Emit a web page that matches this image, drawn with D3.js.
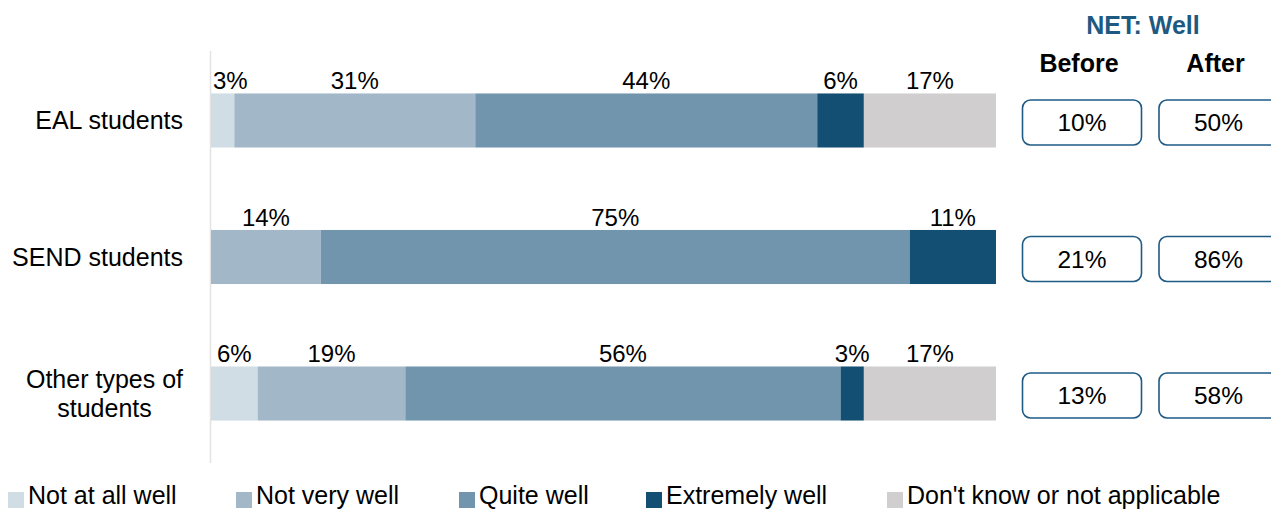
<!DOCTYPE html>
<html>
<head>
<meta charset="utf-8">
<script src="https://cdn.jsdelivr.net/npm/d3@7"></script>
<style>
  html, body { margin: 0; padding: 0; background: #fff; }
  svg { display: block; font-family: "Liberation Sans", Arial, sans-serif; }
</style>
</head>
<body>
<svg id="chart" width="1271" height="510"></svg>
<script>
// ---- Data ----
const categories = ["EAL students", "SEND students", "Other types of students"];
const categoryLines = [["EAL students"], ["SEND students"], ["Other types of", "students"]];
const seriesNames = ["Not at all well", "Not very well", "Quite well", "Extremely well", "Don't know or not applicable"];
const notAtAllWell = [3, 0, 6];
const notVeryWell = [31, 14, 19];
const quiteWell = [44, 75, 56];
const extremelyWell = [6, 11, 3];
const dontKnow = [17, 0, 17];
const netBefore = ["10%", "21%", "13%"];
const netAfter = ["50%", "86%", "58%"];
const netTitle = "NET: Well";
const netColumns = ["Before", "After"];

const colors = ["#d0dde5", "#a2b8c8", "#7295ae", "#134f73", "#d0cece"];

// ---- Layout ----
const svg = d3.select("#chart");
const seriesValues = [notAtAllWell, notVeryWell, quiteWell, extremelyWell, dontKnow];

const rows = categories.map((c, i) => {
  const vals = seriesValues.map(s => s[i]);
  const total = d3.sum(vals);
  let cum = 0;
  const segs = vals.map((v, k) => {
    const s = { key: seriesNames[k], k, value: v, x0: cum / total * 100, x1: (cum + v) / total * 100 };
    cum += v;
    return s;
  });
  return { cat: c, i, segs };
});

const x = d3.scaleLinear().domain([0, 100]).range([211, 996]);
const y = d3.scaleBand().domain(categories).range([51, 463]).paddingInner(0.604).paddingOuter(0.311);

// axis line
svg.append("line")
  .attr("x1", 210.5).attr("x2", 210.5)
  .attr("y1", 51).attr("y2", 463)
  .attr("stroke", "#e3e3e3").attr("stroke-width", 1.5);

// bars
const g = svg.append("g");
rows.forEach(r => {
  const segs = r.segs.filter(s => s.value > 0);
  g.selectAll(null).data(segs).enter().append("rect")
    .attr("x", d => x(d.x0))
    .attr("y", y(r.cat))
    .attr("width", d => x(d.x1) - x(d.x0))
    .attr("height", y.bandwidth())
    .attr("fill", d => colors[d.k]);
  g.selectAll(null).data(segs).enter().append("text")
    .attr("y", y(r.cat) - 4)
    .attr("text-anchor", "middle")
    .attr("font-size", 24)
    .attr("fill", "#000")
    .text(d => d.value + "%")
    .each(function(d) {
      const w = this.getComputedTextLength();
      const cx = Math.max((x(d.x0) + x(d.x1)) / 2, 213 + w / 2);
      d3.select(this).attr("x", cx);
    });
});

// category labels
categoryLines.forEach((lines, i) => {
  const cy = y(categories[i]) + y.bandwidth() / 2;
  const lh = 29;
  const t = svg.append("text")
    .attr("font-size", 25)
    .attr("fill", "#000")
    .attr("text-anchor", "middle");
  const tspans = lines.map((ln, j) => t.append("tspan")
    .attr("y", cy + (j - (lines.length - 1) / 2) * lh + 8.5)
    .text(ln));
  let maxW = 0;
  tspans.forEach(ts => { maxW = Math.max(maxW, ts.node().getComputedTextLength()); });
  tspans.forEach(ts => ts.attr("x", 183 - maxW / 2));
});

// NET header
const colX = [1082, 1218.5];
svg.append("text")
  .attr("x", 1143).attr("y", 34)
  .attr("text-anchor", "middle")
  .attr("font-size", 25).attr("font-weight", "bold")
  .attr("fill", "#1c5a82")
  .text(netTitle);
netColumns.forEach((c, j) => {
  svg.append("text")
    .attr("x", colX[j] - 3).attr("y", 72)
    .attr("text-anchor", "middle")
    .attr("font-size", 25).attr("font-weight", "bold")
    .attr("fill", "#000")
    .text(c);
});

// NET boxes
[netBefore, netAfter].forEach((arr, j) => {
  categories.forEach((c, i) => {
    const cy = y(c) + y.bandwidth() / 2 + 2;
    svg.append("rect")
      .attr("x", colX[j] - 59.5).attr("y", cy - 22.5)
      .attr("width", 119).attr("height", 45)
      .attr("rx", 8).attr("ry", 8)
      .attr("fill", "#fff")
      .attr("stroke", "#1f5b85").attr("stroke-width", 1.6);
    svg.append("text")
      .attr("x", colX[j]).attr("y", cy + 8.5)
      .attr("text-anchor", "middle")
      .attr("font-size", 24.5)
      .attr("fill", "#000")
      .text(arr[i]);
  });
});

// legend
const legendX = [8, 236, 459, 646, 887];
seriesNames.forEach((n, k) => {
  svg.append("rect")
    .attr("x", legendX[k]).attr("y", 492)
    .attr("width", 16).attr("height", 16)
    .attr("fill", colors[k]);
  svg.append("text")
    .attr("x", legendX[k] + 20).attr("y", 504)
    .attr("font-size", 25)
    .attr("fill", "#000")
    .text(n);
});
</script>
</body>
</html>
